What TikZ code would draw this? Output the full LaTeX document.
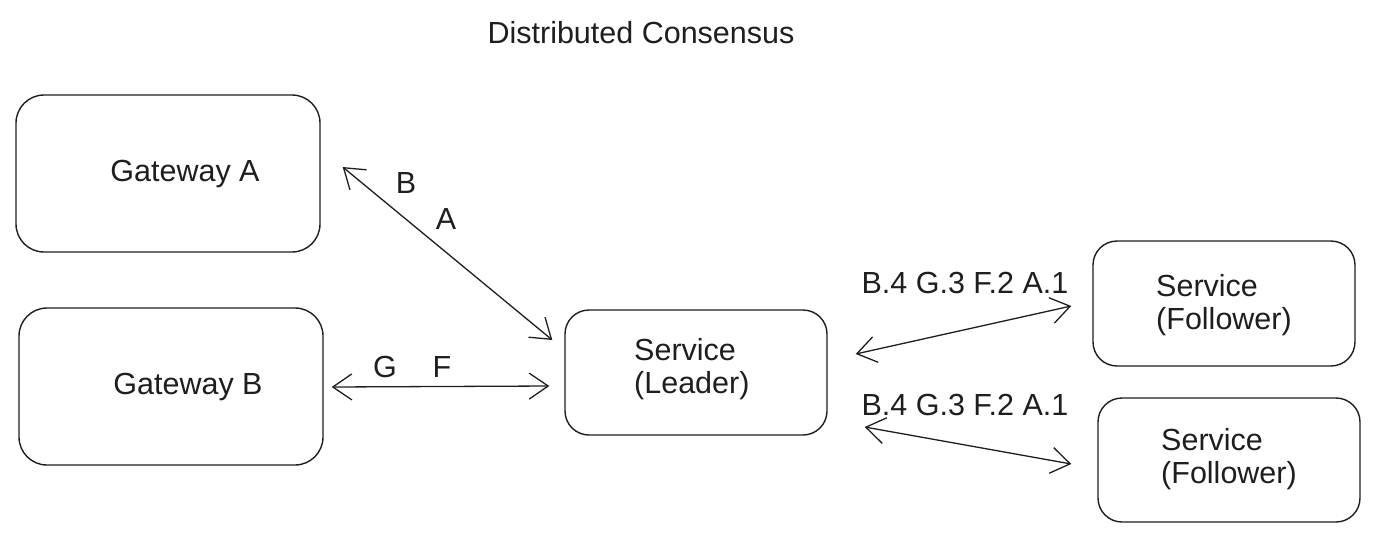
\documentclass[tikz,border=0pt]{standalone}
\usepackage{fontspec}
\setmainfont{Liberation Sans}
\usetikzlibrary{arrows.meta,calc}
\definecolor{ink}{HTML}{1E1E1E}
\begin{document}
\begin{tikzpicture}[x=1pt,y=-1pt,
  box/.style={draw=ink,line width=1.4pt,rounded corners=28pt,inner sep=0pt},
  txt/.style={text=ink,font=\fontsize{30.5}{33}\selectfont,inner sep=0pt,align=left},
  link/.style={draw=ink,line width=1.3pt,{Straight Barb[length=19pt,width=26pt,line width=1.3pt]}-{Straight Barb[length=19pt,width=26pt,line width=1.3pt]}}]
\useasboundingbox (0,0) rectangle (1377,550);
% boxes
\node[box,minimum width=304pt,minimum height=157pt] (gwa) at (168,173.5) {};
\node[box,minimum width=304pt,minimum height=157pt] (gwb) at (171,386.5) {};
\node[box,minimum width=262pt,minimum height=125pt,rounded corners=24pt] (lead) at (696,372.5) {};
\node[box,minimum width=262pt,minimum height=125pt,rounded corners=24pt] (fol1) at (1224,303.5) {};
\node[box,minimum width=262pt,minimum height=124pt,rounded corners=24pt] (fol2) at (1229,460) {};
% texts
\node[txt] (title) at (641,33) {Distributed Consensus};
\node[txt] (tgwa) at (185,174) {Gateway A};
\node[txt] (tgwb) at (188,387) {Gateway B};
\node[txt,anchor=west] (tlead) at (634,369) {Service\\(Leader)};
\node[txt,anchor=west] (tfol1) at (1156,305) {Service\\(Follower)};
\node[txt,anchor=west] (tfol2) at (1161,459) {Service\\(Follower)};
% connectors
\draw[link] ($(gwa.east)+(22,-6.5)$) -- ($(lead.west)+(-12,-32.5)$);
\draw[link] ($(gwb.east)+(8,0.5)$) -- ($(lead.west)+(-15,13.5)$);
\draw[link] ($(lead.east)+(28,-18.5)$) -- ($(fol1.west)+(-21,2.5)$);
\draw[link] ($(lead.east)+(37,54.5)$) -- ($(fol2.west)+(-26,4)$);
% labels
\node[txt] (lb) at (406,183) {B};
\node[txt] (la) at (446,219) {A};
\node[txt] (lg) at (385,367) {G};
\node[txt] (lf) at (442,367) {F};
\node[txt] (l1) at (965,283) {B.4 G.3 F.2 A.1};
\node[txt] (l2) at (965,405) {B.4 G.3 F.2 A.1};
\end{tikzpicture}
\end{document}
